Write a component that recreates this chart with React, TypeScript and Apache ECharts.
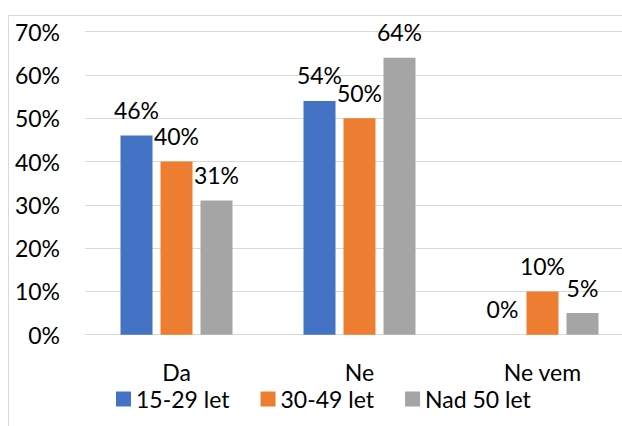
import React, { useEffect, useRef } from "react";
import * as echarts from "echarts";

const categories = ["Da", "Ne", "Ne vem"];
const seriesNames = ["15-29 let", "30-49 let", "Nad 50 let"];
const young = [46, 54, 0];
const middle = [40, 50, 10];
const older = [31, 64, 5];
const colors = ["#4472C4", "#ED7D31", "#A5A5A5"];
const yTicks = { min: 0, max: 70, interval: 10 };

const FONT = "Lato";
const FS = 23;

export default function App() {
  const ref = useRef<HTMLDivElement>(null);
  useEffect(() => {
    if (!ref.current) return;
    const chart = echarts.init(ref.current, undefined, { renderer: "svg" });
    const values = [young, middle, older];
    chart.setOption({
      animation: false,
      textStyle: { fontFamily: FONT },
      grid: { left: 76, top: 15.7, width: 549, height: 303 },
      legend: {
        data: seriesNames,
        left: 107,
        top: 371.5,
        padding: 0,
        itemWidth: 15,
        itemHeight: 15,
        itemGap: 31,
        icon: "rect",
        textStyle: { fontFamily: FONT, fontSize: FS, lineHeight: 18, color: "#000" },
      },
      xAxis: {
        type: "category",
        data: categories,
        axisLine: { lineStyle: { color: "#D9D9D9", width: 1 } },
        axisTick: { show: false },
        axisLabel: {
          margin: 27.5,
          fontFamily: FONT,
          fontSize: FS,
          lineHeight: 20,
          color: "#000",
        },
      },
      yAxis: {
        type: "value",
        min: yTicks.min,
        max: yTicks.max,
        interval: yTicks.interval,
        axisLine: { show: false },
        axisTick: { show: false },
        splitLine: { lineStyle: { color: "#D9D9D9", width: 1 } },
        axisLabel: {
          margin: 25,
          fontFamily: FONT,
          fontSize: FS,
          color: "#000",
          formatter: "{value}%",
        },
      },
      series: seriesNames.map((name, i) => ({
        name,
        type: "bar",
        data: values[i],
        barWidth: 32,
        barGap: "25%",
        itemStyle: { color: colors[i] },
        label: {
          show: true,
          position: "top",
          distance: 14,
          formatter: "{c}%",
          fontFamily: FONT,
          fontSize: FS,
          color: "#000",
        },
      })),
    });
    return () => chart.dispose();
  }, []);
  return (
    <div
      style={{
        position: "fixed",
        left: 0,
        top: 0,
        width: 622,
        height: 426,
        overflow: "hidden",
        background: "#fff",
      }}
    >
      <div
        style={{
          position: "absolute",
          left: 8,
          top: 15,
          width: 637,
          height: 440,
          border: "1px solid #D9D9D9",
          boxSizing: "border-box",
        }}
      >
        <div ref={ref} style={{ width: 635, height: 438 }} />
      </div>
    </div>
  );
}
